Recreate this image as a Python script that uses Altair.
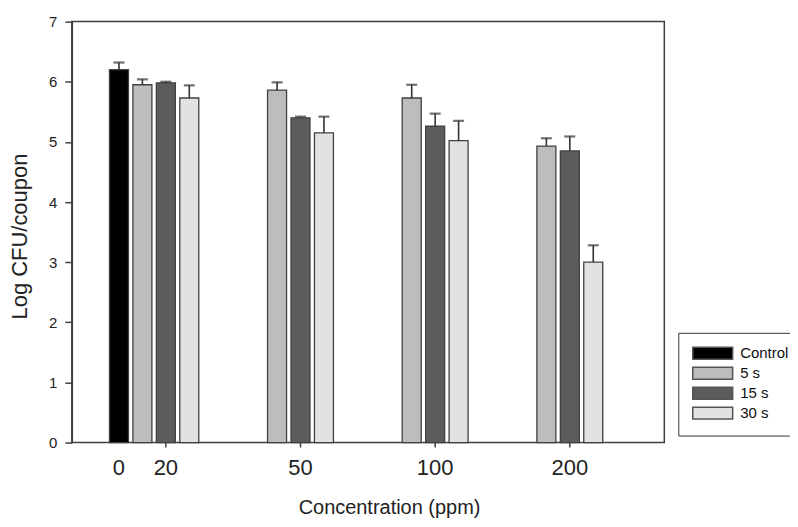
import altair as alt
import pandas as pd

# ---- data ----
groups = ["20", "50", "100", "200"]
series = ["Control", "5 s", "15 s", "30 s"]
colors = ["#000000", "#bdbdbd", "#5c5c5c", "#e2e2e2"]

control_value = 6.20
control_err = 0.12
values_5s = [5.95, 5.86, 5.73, 4.93]
err_5s = [0.09, 0.13, 0.22, 0.13]
values_15s = [5.98, 5.40, 5.26, 4.85]
err_15s = [0.02, 0.02, 0.21, 0.24]
values_30s = [5.73, 5.15, 5.02, 3.00]
err_30s = [0.21, 0.27, 0.33, 0.28]

tick_labels = ["0", "20", "50", "100", "200"]
tick_groups = ["20", "20", "50", "100", "200"]
tick_series = ["Control", "15 s", "15 s", "15 s", "15 s"]
tick_marked = [False, True, True, True, True]

# ---- tables ----
rows = [{"group": "20", "series": "Control", "value": control_value, "err": control_err}]
for s, vals, errs in [("5 s", values_5s, err_5s), ("15 s", values_15s, err_15s), ("30 s", values_30s, err_30s)]:
    for g, v, e in zip(groups, vals, errs):
        rows.append({"group": g, "series": s, "value": v, "err": e})
df = pd.DataFrame(rows)
df["upper"] = df["value"] + df["err"]

ticks_df = pd.DataFrame({"group": tick_groups, "series": tick_series,
                         "label": tick_labels, "marked": tick_marked})

W, H = 594, 422
FONT = "Liberation Sans"

x_enc = alt.X("group:N", scale=alt.Scale(domain=groups, range=[15, 555], paddingInner=0, paddingOuter=0),
              axis=alt.Axis(labels=False, ticks=False, domain=False,
                            title="Concentration (ppm)", titleFontSize=20, titleFontWeight="normal",
                            titleFont=FONT, titleColor="#222", titleX=318, titleY=65, titleBaseline="middle",
                            titleAlign="center"))
xo_enc = alt.XOffset("series:N", scale=alt.Scale(domain=series, range=[20.5, 114.5],
                                                 paddingInner=0.19, paddingOuter=0.095))
y_scale = alt.Scale(domain=[0, 7], nice=False)

bars = alt.Chart(df).mark_bar(stroke="#404040", strokeWidth=1.3).encode(
    x=x_enc,
    xOffset=xo_enc,
    y=alt.Y("value:Q", scale=y_scale,
            axis=alt.Axis(values=[0, 1, 2, 3, 4, 5, 6, 7], format="d", tickSize=7, tickColor="#404040",
                          tickWidth=1.5, domainColor="#404040", domainWidth=1.5, labelFontSize=15,
                          labelFont=FONT, labelColor="#222", labelPadding=8, grid=False,
                          title="Log CFU/coupon", titleFontSize=22, titleFontWeight="normal", titleFont=FONT,
                          titleColor="#222", titleX=-52, titleY=215, titleAngle=-90, titleAlign="center",
                          titleBaseline="middle")),
    color=alt.Color("series:N", scale=alt.Scale(domain=series, range=colors),
                    legend=alt.Legend(title=None, orient="none", legendX=608, legendY=312,
                                      strokeColor="#333", padding=13, fillColor="white",
                                      symbolType="M-1,-1H5.67V1H-1Z", symbolSize=144,
                                      symbolStrokeColor="#555", symbolStrokeWidth=1.5,
                                      labelOffset=34, labelFontSize=15, labelFont=FONT,
                                      labelColor="#111", rowPadding=1, labelLimit=200)),
)

err_rule = alt.Chart(df).mark_rule(color="#333", strokeWidth=1.6).encode(
    x="group:N", xOffset="series:N", y=alt.Y("value:Q", scale=y_scale), y2="upper:Q")

err_cap = alt.Chart(df).mark_tick(color="#333", thickness=2.2, size=11).encode(
    x="group:N", xOffset="series:N", y=alt.Y("upper:Q", scale=y_scale))

tick_text = alt.Chart(ticks_df).mark_text(fontSize=22, font=FONT, color="#222", baseline="middle").encode(
    x="group:N", xOffset="series:N", y=alt.value(H + 26), text="label:N")

tick_marks = alt.Chart(ticks_df).transform_filter("datum.marked").mark_rule(
    color="#404040", strokeWidth=1.5).encode(
    x="group:N", xOffset="series:N", y=alt.value(H), y2=alt.value(H + 5))

chart = alt.layer(bars, err_rule, err_cap, tick_marks, tick_text).properties(
    width=W, height=H,
    autosize=alt.AutoSizeParams(type="none"),
    padding={"left": 64, "top": 13, "right": 126, "bottom": 76},
    background="white",
).configure_view(stroke="#404040", strokeWidth=1.5)

chart.save("out.html", embed_options={"renderer": "svg", "actions": False})
